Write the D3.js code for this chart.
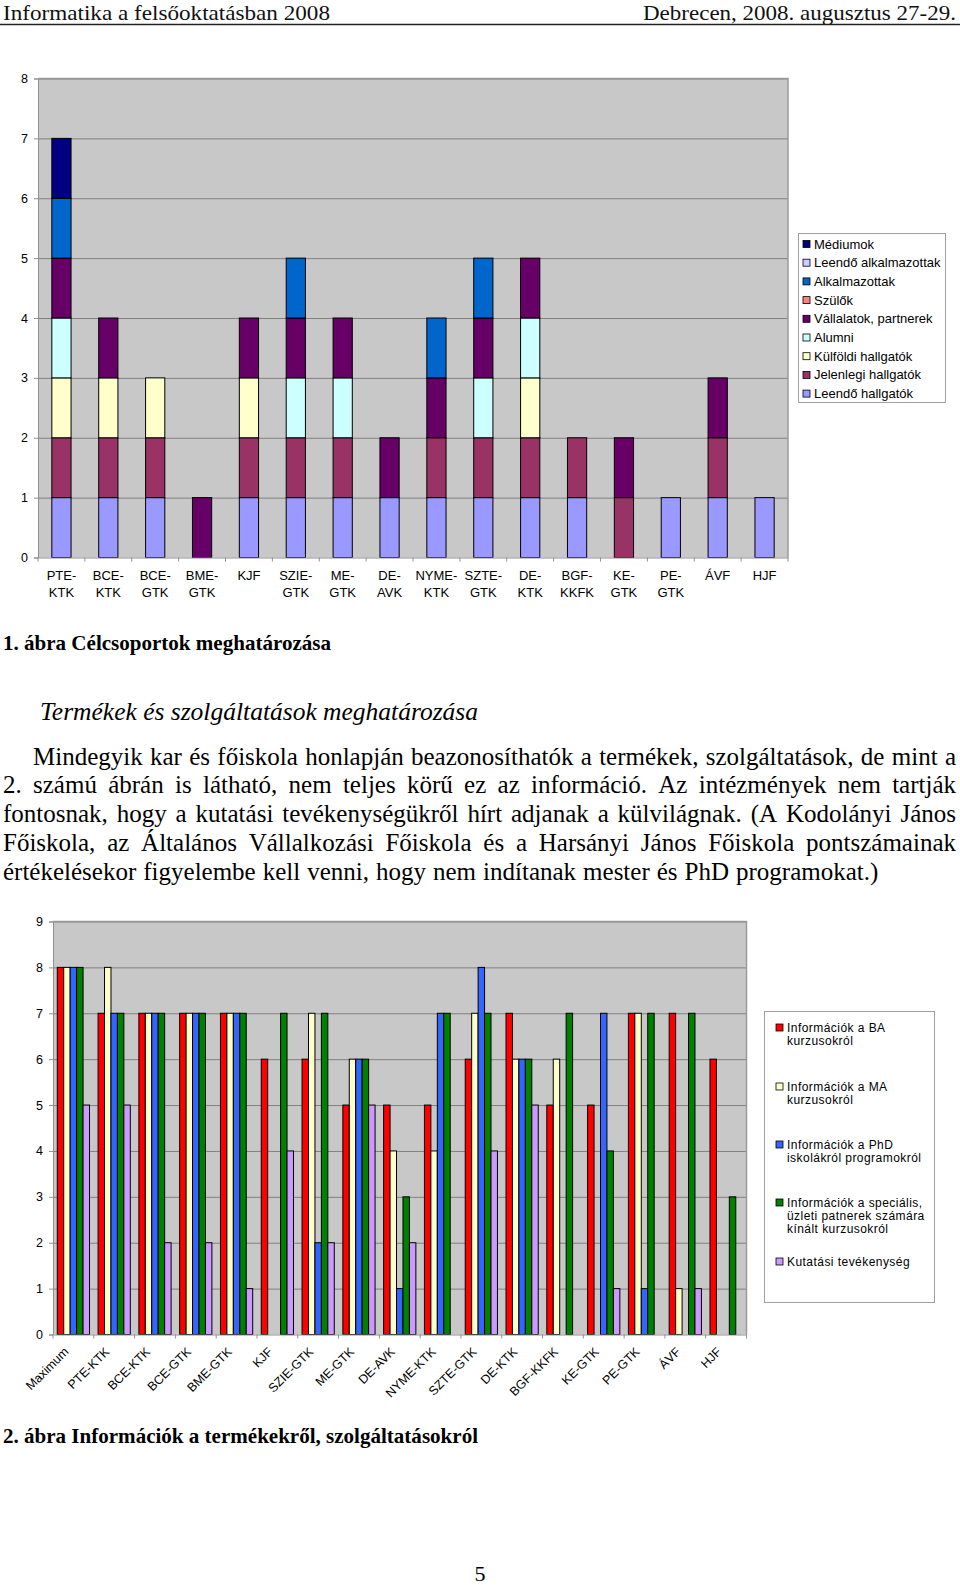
<!DOCTYPE html>
<html><head><meta charset="utf-8">
<script src="https://cdn.jsdelivr.net/npm/d3@7"></script>
<style>
body{margin:0;background:#fff}
svg{display:block}
.sans{font-family:Arial,"Liberation Sans",sans-serif}
.serif{font-family:"Liberation Serif","Times New Roman",serif}
</style>
</head><body>
<svg id="page" width="960" height="1585"></svg>
<script>
// ---------- DATA: chart 1 (Célcsoportok) ----------
const categories1 = ["PTE-KTK","BCE-KTK","BCE-GTK","BME-GTK","KJF","SZIE-GTK","ME-GTK","DE-AVK","NYME-KTK","SZTE-GTK","DE-KTK","BGF-KKFK","KE-GTK","PE-GTK","ÁVF","HJF"];
const leendoHallgatok    = [1,1,1,0,1,1,1,1,1,1,1,1,0,1,1,1];
const jelenlegiHallgatok = [1,1,1,0,1,1,1,0,1,1,1,1,1,0,1,0];
const kulfoldiHallgatok  = [1,1,1,0,1,0,0,0,0,0,1,0,0,0,0,0];
const alumni             = [1,0,0,0,0,1,1,0,0,1,1,0,0,0,0,0];
const vallalatok         = [1,1,0,1,1,1,1,1,1,1,1,0,1,0,1,0];
const szulok             = [0,0,0,0,0,0,0,0,0,0,0,0,0,0,0,0];
const alkalmazottak      = [1,0,0,0,0,1,0,0,1,1,0,0,0,0,0,0];
const leendoAlkalmazottak= [0,0,0,0,0,0,0,0,0,0,0,0,0,0,0,0];
const mediumok           = [1,0,0,0,0,0,0,0,0,0,0,0,0,0,0,0];
const seriesNames1 = ["Leendő hallgatók","Jelenlegi hallgatók","Külföldi hallgatók","Alumni","Vállalatok, partnerek","Szülők","Alkalmazottak","Leendő alkalmazottak","Médiumok"];
const seriesValues1 = [leendoHallgatok,jelenlegiHallgatok,kulfoldiHallgatok,alumni,vallalatok,szulok,alkalmazottak,leendoAlkalmazottak,mediumok];
const seriesColors1 = ["#9999FF","#993366","#FFFFCC","#CCFFFF","#660066","#FF8080","#0066CC","#CCCCFF","#000080"];
const yTicks1 = [0,1,2,3,4,5,6,7,8];

// ---------- DATA: chart 2 (Információk) ----------
const categories2 = ["Maximum","PTE-KTK","BCE-KTK","BCE-GTK","BME-GTK","KJF","SZIE-GTK","ME-GTK","DE-AVK","NYME-KTK","SZTE-GTK","DE-KTK","BGF-KKFK","KE-GTK","PE-GTK","ÁVF","HJF"];
const infoBA      = [8,7,7,7,7,6,6,5,5,5,6,7,5,5,7,7,6];
const infoMA      = [8,8,7,7,7,0,7,6,4,4,7,6,6,0,7,1,0];
const infoPhD     = [8,7,7,7,7,0,2,6,1,7,8,6,0,7,1,0,0];
const infoSpec    = [8,7,7,7,7,7,7,6,3,7,7,6,7,4,7,7,3];
const kutatas     = [5,5,2,2,1,4,2,5,2,0,4,5,0,1,0,1,0];
const seriesNames2 = [["Információk a BA","kurzusokról"],["Információk a MA","kurzusokról"],["Információk a PhD","iskolákról programokról"],["Információk a speciális,","üzleti patnerek számára","kínált kurzusokról"],["Kutatási tevékenység"]];
const seriesValues2 = [infoBA,infoMA,infoPhD,infoSpec,kutatas];
const seriesColors2 = ["#FF0000","#FFFFCC","#3366FF","#008000","#CC99FF"];
const yTicks2 = [0,1,2,3,4,5,6,7,8,9];

// ---------- TEXT ----------
const headerLeft = "Informatika a felsőoktatásban 2008";
const headerRight = "Debrecen, 2008. augusztus 27-29.";
const caption1 = "1. ábra Célcsoportok meghatározása";
const heading = "Termékek és szolgáltatások meghatározása";
const paragraphLines = [
 "Mindegyik kar és főiskola honlapján beazonosíthatók a termékek, szolgáltatások, de mint a",
 "2. számú ábrán is látható, nem teljes körű ez az információ. Az intézmények nem tartják",
 "fontosnak, hogy a kutatási tevékenységükről hírt adjanak a külvilágnak. (A Kodolányi János",
 "Főiskola, az Általános Vállalkozási Főiskola és a Harsányi János Főiskola pontszámainak",
 "értékelésekor figyelembe kell venni, hogy nem indítanak mester és PhD programokat.)"
];
const caption2 = "2. ábra Információk a termékekről, szolgáltatásokról";
const pageNumber = "5";

const svg = d3.select("#page");
svg.append("rect").attr("width",960).attr("height",1585).attr("fill","#fff");

// ---------- header ----------
svg.append("text").attr("class","serif").attr("x",3).attr("y",20).attr("font-size",22)
  .attr("textLength",327).attr("lengthAdjust","spacingAndGlyphs").attr("fill","#111").text(headerLeft);
svg.append("text").attr("class","serif").attr("x",643).attr("y",20).attr("font-size",22)
  .attr("textLength",313).attr("lengthAdjust","spacingAndGlyphs").attr("fill","#111").text(headerRight);
svg.append("line").attr("x1",0).attr("x2",960).attr("y1",24.5).attr("y2",24.5).attr("stroke","#222").attr("stroke-width",1.6);

// ---------- chart 1 ----------
const c1 = {l:38, r:788, t:78.5, b:557.5};
const x1 = d3.scaleBand().domain(categories1).range([c1.l,c1.r]).paddingInner(0.59).paddingOuter(0.295);
const y1 = d3.scaleLinear().domain([0,8]).range([c1.b,c1.t]);
const g1 = svg.append("g");
g1.append("rect").attr("x",c1.l).attr("y",c1.t).attr("width",c1.r-c1.l).attr("height",c1.b-c1.t).attr("fill","#C8C8C8");
g1.append("g").attr("transform",`translate(${c1.l},0)`)
  .call(d3.axisLeft(y1).tickValues(yTicks1.slice(1)).tickSize(-(c1.r-c1.l)).tickFormat(""))
  .call(g=>{g.select(".domain").remove(); g.selectAll("line").attr("stroke","#808080").attr("stroke-width",1);});
const rows1 = categories1.map((c,i)=>{const o={cat:c}; seriesNames1.forEach((s,j)=>o[s]=seriesValues1[j][i]); return o;});
const stack1 = d3.stack().keys(seriesNames1)(rows1);
stack1.forEach((layer,j)=>{
  g1.append("g").selectAll("rect").data(layer.filter(d=>d[1]-d[0]>0)).join("rect")
    .attr("x",d=>x1(d.data.cat)).attr("width",x1.bandwidth())
    .attr("y",d=>y1(d[1])).attr("height",d=>y1(d[0])-y1(d[1]))
    .attr("fill",seriesColors1[j]).attr("stroke","#000").attr("stroke-width",1);
});
g1.append("path").attr("d",`M${c1.l},${c1.t}H${c1.r}V${c1.b}`).attr("fill","none").attr("stroke","#9a9a9a").attr("stroke-width",1.5);
g1.append("g").attr("class","sans").attr("transform",`translate(${c1.l},0)`)
  .call(d3.axisLeft(y1).tickValues(yTicks1).tickSize(4).tickPadding(6))
  .call(g=>{g.select(".domain").attr("stroke","#909090");g.selectAll("line").attr("stroke","#909090");
    g.selectAll("text").attr("font-size",12.5).attr("font-family","Arial, Liberation Sans").attr("fill","#000");});
g1.append("g").attr("transform",`translate(0,${c1.b})`)
  .call(d3.axisBottom(x1).tickSize(0).tickPadding(0).tickFormat(""))
  .call(g=>g.select(".domain").attr("stroke","#909090"));
const bound1 = d3.range(categories1.length+1).map(i=>c1.l + i*x1.step());
g1.append("g").selectAll("line").data(bound1).join("line")
  .attr("x1",d=>d).attr("x2",d=>d).attr("y1",c1.b).attr("y2",c1.b+4).attr("stroke","#909090");
const lab1 = g1.append("g").attr("class","sans").attr("font-size",13).attr("text-anchor","middle");
categories1.forEach(c=>{
  const k = c.indexOf("-");
  const parts = k>=0 ? [c.slice(0,k+1), c.slice(k+1)] : [c];
  const t = lab1.append("text").attr("x",x1(c)+x1.bandwidth()/2).attr("y",580);
  parts.forEach((p,i)=>t.append("tspan").attr("x",x1(c)+x1.bandwidth()/2).attr("y",580+i*16.5).text(p));
});
const leg1 = svg.append("g").attr("class","sans");
leg1.append("rect").attr("x",798.5).attr("y",233.5).attr("width",147).attr("height",169).attr("fill","#fff").attr("stroke","#a0a0a0");
const legOrder1 = d3.range(seriesNames1.length).reverse();
legOrder1.forEach((j,i)=>{
  const cy = 244 + i*18.7;
  leg1.append("rect").attr("x",803).attr("y",cy-3.5).attr("width",7).attr("height",7).attr("fill",seriesColors1[j]).attr("stroke","#000").attr("stroke-width",0.8);
  leg1.append("text").attr("x",814).attr("y",cy+4.5).attr("font-size",13).text(seriesNames1[j]);
});

// ---------- caption 1 / heading ----------
svg.append("text").attr("class","serif").attr("x",3).attr("y",650).attr("font-size",21).attr("font-weight","bold")
  .attr("textLength",328).attr("lengthAdjust","spacingAndGlyphs").text(caption1);
svg.append("text").attr("class","serif").attr("x",40).attr("y",720).attr("font-size",25).attr("font-style","italic")
  .attr("textLength",438).attr("lengthAdjust","spacingAndGlyphs").text(heading);

// ---------- paragraph (justified) ----------
const pg = svg.append("g").attr("class","serif").attr("font-size",25).attr("fill","#000");
const baselines = [765,793,822,851,880];
paragraphLines.forEach((line,li)=>{
  const words = line.split(" ");
  const x0 = li===0 ? 33 : 3, xR = 956;
  const ts = words.map(w=>pg.append("text").attr("y",baselines[li]).text(w));
  const ws = ts.map(t=>t.node().getComputedTextLength());
  const sum = d3.sum(ws);
  const last = li===paragraphLines.length-1;
  const gap = last ? 7 : (xR-x0-sum)/(words.length-1);
  let x = x0;
  ts.forEach((t,i)=>{t.attr("x",x); x += ws[i]+gap;});
});

// ---------- chart 2 ----------
const c2 = {l:53, r:746.5, t:921.5, b:1334.5};
const x2 = d3.scaleBand().domain(categories2).range([c2.l,c2.r]).paddingInner(0.21).paddingOuter(0.105);
const xs2 = d3.scaleBand().domain(d3.range(seriesValues2.length)).range([0,x2.bandwidth()]);
const y2 = d3.scaleLinear().domain([0,9]).range([c2.b,c2.t]);
const g2 = svg.append("g");
g2.append("rect").attr("x",c2.l).attr("y",c2.t).attr("width",c2.r-c2.l).attr("height",c2.b-c2.t).attr("fill","#C8C8C8");
g2.append("g").attr("transform",`translate(${c2.l},0)`)
  .call(d3.axisLeft(y2).tickValues(yTicks2.slice(1)).tickSize(-(c2.r-c2.l)).tickFormat(""))
  .call(g=>{g.select(".domain").remove(); g.selectAll("line").attr("stroke","#808080").attr("stroke-width",1);});
seriesValues2.forEach((vals,j)=>{
  g2.append("g").selectAll("rect").data(categories2.map((c,i)=>({c,v:vals[i]})).filter(d=>d.v>0)).join("rect")
    .attr("x",d=>x2(d.c)+xs2(j)).attr("width",xs2.bandwidth())
    .attr("y",d=>y2(d.v)).attr("height",d=>y2(0)-y2(d.v))
    .attr("fill",seriesColors2[j]).attr("stroke","#000").attr("stroke-width",1);
});
g2.append("path").attr("d",`M${c2.l},${c2.t}H${c2.r}V${c2.b}`).attr("fill","none").attr("stroke","#9a9a9a").attr("stroke-width",1.5);
g2.append("g").attr("class","sans").attr("transform",`translate(${c2.l},0)`)
  .call(d3.axisLeft(y2).tickValues(yTicks2).tickSize(4).tickPadding(6))
  .call(g=>{g.select(".domain").attr("stroke","#909090");g.selectAll("line").attr("stroke","#909090");
    g.selectAll("text").attr("font-size",12.5).attr("font-family","Arial, Liberation Sans").attr("fill","#000");});
g2.append("g").attr("transform",`translate(0,${c2.b})`)
  .call(d3.axisBottom(x2).tickSize(0).tickFormat(""))
  .call(g=>g.select(".domain").attr("stroke","#909090"));
const bound2 = d3.range(categories2.length+1).map(i=>c2.l + i*x2.step());
g2.append("g").selectAll("line").data(bound2).join("line")
  .attr("x1",d=>d).attr("x2",d=>d).attr("y1",c2.b).attr("y2",c2.b+4).attr("stroke","#909090");
const lab2 = g2.append("g").attr("class","sans").attr("font-size",12.5).attr("text-anchor","end");
categories2.forEach(c=>{
  const px = x2(c)+x2.bandwidth()/2-4, py = c2.b+18;
  lab2.append("text").attr("transform",`translate(${px},${py}) rotate(-45)`).text(c);
});
const leg2 = svg.append("g").attr("class","sans");
leg2.append("rect").attr("x",764.5).attr("y",1011.5).attr("width",170).attr("height",291).attr("fill","#fff").attr("stroke","#a0a0a0");
const legY2 = [1027.5,1086.5,1144.5,1202.5,1261.5];
seriesNames2.forEach((lines,j)=>{
  const cy = legY2[j];
  leg2.append("rect").attr("x",776).attr("y",cy-3.5).attr("width",7).attr("height",7).attr("fill",seriesColors2[j]).attr("stroke","#000").attr("stroke-width",0.8);
  lines.forEach((ln,k)=>leg2.append("text").attr("x",787).attr("y",cy+4.3+k*13).attr("font-size",12).attr("letter-spacing",0.45).text(ln));
});

// ---------- caption 2 & page number ----------
svg.append("text").attr("class","serif").attr("x",3).attr("y",1443).attr("font-size",21).attr("font-weight","bold")
  .attr("textLength",475).attr("lengthAdjust","spacingAndGlyphs").text(caption2);
svg.append("text").attr("class","serif").attr("x",480).attr("y",1581).attr("font-size",22).attr("text-anchor","middle").text(pageNumber);
</script>
</body></html>
